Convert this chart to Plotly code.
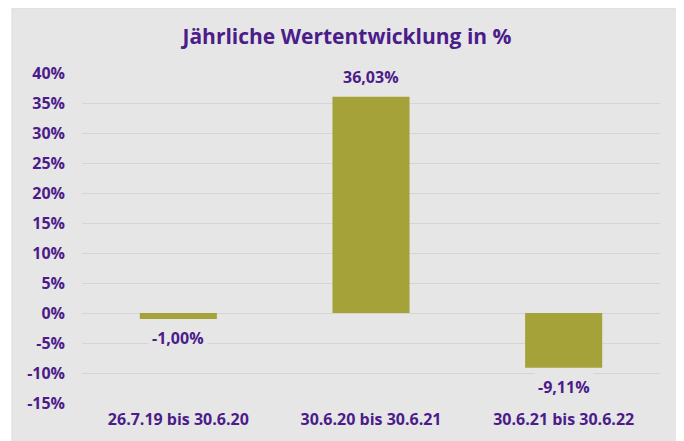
import plotly.graph_objects as go

categories = ["26.7.19 bis 30.6.20", "30.6.20 bis 30.6.21", "30.6.21 bis 30.6.22"]
values = [-1.00, 36.03, -9.11]
value_labels = ["-1,00%", "36,03%", "-9,11%"]
tick_vals = [-15, -10, -5, 0, 5, 10, 15, 20, 25, 30, 35, 40]
tick_text = ["-15%", "-10%", "-5%", "0%", "5%", "10%", "15%", "20%", "25%", "30%", "35%", "40%"]

PURPLE = "#4b1c8a"
OLIVE = "#a5a23a"
PANEL = "#e6e6e6"
GRID = "#d5d5d5"
FONT = "Open Sans"

OFF = 8  # page body margin
W, H = 684 - OFF, 441 - OFF
L, T = 82 - OFF, 73 - OFF
R = W - (660 - OFF)
B = H - (403 - OFF)
pw, ph = W - L - R, H - T - B

fig = go.Figure()
fig.add_trace(go.Bar(x=categories, y=values, marker=dict(color=OLIVE, line=dict(width=0)),
                     hoverinfo="skip"))

for c, v, t in zip(categories, values, value_labels):
    fig.add_annotation(x=c, y=v, text=t, showarrow=False,
                       yshift=20 if v >= 0 else -19,
                       font=dict(family=FONT, size=16, color=PURPLE, weight="bold"),
                       bgcolor=PANEL, borderpad=3)

# gray panel background
fig.add_shape(type="rect", xref="paper", yref="paper", layer="below",
              x0=(12 - OFF - L) / pw, x1=(680 - OFF - L) / pw,
              y0=-0.5, y1=(H - B - (8 - OFF)) / ph,
              fillcolor=PANEL, line=dict(width=1, color="#dcdcdc"))

fig.update_layout(
    width=W, height=H,
    margin=dict(l=L, r=R, t=T, b=B),
    paper_bgcolor="white",
    plot_bgcolor="rgba(0,0,0,0)",
    bargap=0.6,
    showlegend=False,
    title=dict(text="Jährliche Wertentwicklung in %", x=(347 - OFF) / W, xanchor="center",
               y=1 - (37 - OFF) / H, yanchor="middle",
               font=dict(family=FONT, size=21, color=PURPLE, weight="bold")),
    xaxis=dict(showgrid=False, zeroline=False, showline=False, ticks="",
               tickfont=dict(family=FONT, size=16, color=PURPLE, weight="bold"),
               ticklabelstandoff=5),
    yaxis=dict(range=[-15, 40], tickvals=tick_vals, ticktext=tick_text,
               showgrid=True, gridcolor=GRID, gridwidth=1,
               zeroline=True, zerolinecolor=GRID, zerolinewidth=1,
               showline=False, ticks="",
               tickfont=dict(family=FONT, size=16, color=PURPLE, weight="bold"),
               ticklabelstandoff=16),
)

fig.write_html("out.html")
